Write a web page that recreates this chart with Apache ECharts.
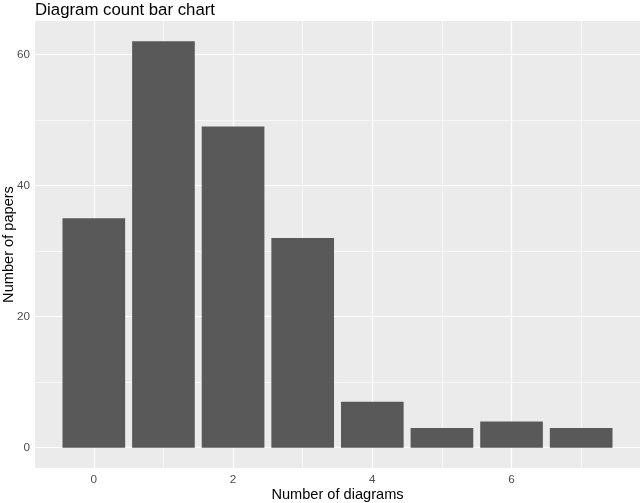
<!DOCTYPE html>
<html><head><meta charset="utf-8">
<script src="https://cdn.jsdelivr.net/npm/echarts@6/dist/echarts.min.js"></script>
<style>html,body{margin:0;padding:0;background:#fff}#c{width:640px;height:503px}</style>
</head><body><div id="c"></div>
<script>
var categories = [0, 1, 2, 3, 4, 5, 6, 7];
var paperCounts = [35, 62, 49, 32, 7, 3, 4, 3];
var xTickLabels = [0, 2, 4, 6];
var yTickLabels = [0, 20, 40, 60];
var xMinorGrid = [1, 3, 5, 7];
var yMinorGrid = [10, 30, 50];

var barData = categories.map(function (c, i) { return [c, paperCounts[i]]; });
var chart = echarts.init(document.getElementById('c'), null, {renderer: 'canvas'});
var font = 'Liberation Sans, Arial, sans-serif';
function vLines(vals, w) { return vals.map(function (v) { return {xAxis: v, lineStyle: {color: '#fff', width: w, type: 'solid'}}; }); }
function hLines(vals, w) { return vals.map(function (v) { return {yAxis: v, lineStyle: {color: '#fff', width: w, type: 'solid'}}; }); }

chart.setOption({
  animation: false,
  title: {text: 'Diagram count bar chart', left: 30, top: -3,
    textStyle: {fontFamily: font, fontSize: 16.8, fontWeight: 'normal', color: '#000'}},
  grid: {left: 35, right: 0, top: 21, bottom: 35, show: true, backgroundColor: '#EBEBEB', borderWidth: 0,
    containLabel: false, outerBoundsMode: 'none'},
  xAxis: {
    type: 'value', min: -0.845, max: 7.845,
    name: 'Number of diagrams', nameLocation: 'middle', nameGap: 19, nameMoveOverlap: false,
    nameTextStyle: {fontFamily: font, fontSize: 14.6, color: '#000'},
    axisLine: {show: false},
    axisTick: {show: true, length: 3, customValues: xTickLabels, lineStyle: {color: '#333', width: 1}},
    axisLabel: {customValues: xTickLabels, color: '#4D4D4D', fontFamily: font, fontSize: 11.7, margin: 6},
    splitLine: {show: false}
  },
  yAxis: {
    type: 'value', min: -3.1, max: 65.1,
    name: 'Number of papers', nameLocation: 'middle', nameGap: 19, nameMoveOverlap: false,
    nameTextStyle: {fontFamily: font, fontSize: 14.6, color: '#000'},
    axisLine: {show: false},
    axisTick: {show: true, length: 3, customValues: yTickLabels, lineStyle: {color: '#333', width: 1}},
    axisLabel: {customValues: yTickLabels, color: '#4D4D4D', fontFamily: font, fontSize: 11.7, margin: 5},
    splitLine: {show: false}
  },
  series: [
    {
      type: 'line', data: [], z: 1, silent: true,
      markLine: {silent: true, symbol: ['none', 'none'], label: {show: false}, animation: false,
        data: vLines(xMinorGrid, 0.6).concat(hLines(yMinorGrid, 0.6)).concat(vLines(xTickLabels, 1.2)).concat(hLines(yTickLabels, 1.2))}
    },
    {
      type: 'custom', z: 5, data: barData,
      renderItem: function (params, api) {
        var c = api.value(0), v = api.value(1);
        var p0 = api.coord([c - 0.45, v]);
        var p1 = api.coord([c + 0.45, 0]);
        return {type: 'rect', shape: {x: p0[0], y: p0[1], width: p1[0] - p0[0], height: p1[1] - p0[1]},
          style: {fill: '#595959'}};
      }
    }
  ]
});
</script></body></html>
